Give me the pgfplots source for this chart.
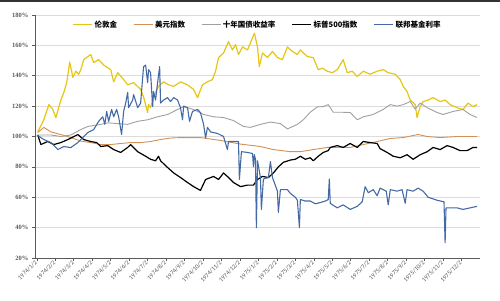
\documentclass[border=0pt]{standalone}
\usepackage{pgfplots}
\pgfplotsset{compat=1.18}
\usepackage{fontspec}
\setmainfont{Liberation Serif}
\newfontfamily\xfont{Carlito}
\newfontfamily\cjk{Noto Sans CJK SC}
\definecolor{cgold}{RGB}{230,198,20}
\definecolor{corange}{RGB}{210,145,85}
\definecolor{cgray}{RGB}{160,160,160}
\definecolor{cblue}{RGB}{68,106,166}
\definecolor{cgrid}{RGB}{220,220,220}
\definecolor{caxis}{RGB}{90,90,90}
\begin{document}
\begin{tikzpicture}
\begin{axis}[
  scale only axis, width=445pt, height=243pt,
  xmin=-0.1, xmax=24, ymin=20, ymax=180,
  axis x line=bottom, axis y line=left,
  axis line style={caxis, line width=0.8pt, -},
  tick align=outside, major tick length=3pt,
  tick style={caxis, line width=0.6pt},
  xtick={0,...,23},
  xticklabels={1974/1/2,1974/2/2,1974/3/2,1974/4/2,1974/5/2,1974/6/2,1974/7/2,1974/8/2,1974/9/2,1974/10/2,1974/11/2,1974/12/2,1975/1/2,1975/2/2,1975/3/2,1975/4/2,1975/5/2,1975/6/2,1975/7/2,1975/8/2,1975/9/2,1975/10/2,1975/11/2,1975/12/2},
  x tick label style={rotate=45, anchor=east, font=\xfont\fontsize{6.3}{7}\selectfont, text=caxis, inner sep=1pt},
  ytick={20,40,60,80,100,120,140,160,180},
  yticklabels={20\%,40\%,60\%,80\%,100\%,120\%,140\%,160\%,180\%},
  y tick label style={font=\bfseries\fontsize{6.5}{7}\selectfont, text=caxis},
  ymajorgrids, major grid style={cgrid, line width=0.6pt},
  legend columns=5,
  legend style={at={(0.5,0.99)}, anchor=north, draw=none, fill=none,
    font=\cjk\bfseries\fontsize{7.5}{8}\selectfont, inner sep=1pt,
    /tikz/every even column/.append style={column sep=14pt}},
  legend image code/.code={\draw[#1] (0pt,0pt) -- (19pt,0pt);},
  every axis plot/.append style={line join=round},
]
\coordinate (bl) at (rel axis cs:0,0);
\coordinate (tr) at (rel axis cs:1,1);
% London gold
\addplot[cgold, line width=1.2pt] coordinates {
(0.05,103) (0.38,111) (0.65,121) (0.86,118) (1.03,112.5) (1.30,124) (1.46,129) (1.62,135.5) (1.78,149) (1.95,139) (2.11,143) (2.27,141) (2.38,144) (2.54,150.6) (2.92,154) (3.08,148.7) (3.35,150.6) (3.62,147) (4.00,144) (4.16,136) (4.38,142) (4.70,137.5) (4.92,134) (5.24,135.5) (5.62,131) (5.78,126) (6.00,115.8) (6.05,121) (6.16,119) (6.32,126) (6.59,133) (6.86,136) (7.14,134) (7.41,133) (7.78,136) (8.16,134) (8.49,131) (8.70,125.6) (8.97,134) (9.24,136) (9.51,137.5) (9.68,143) (9.84,152) (10.11,155) (10.38,162.5) (10.59,157) (10.76,160.5) (10.92,154) (11.14,159) (11.41,157) (11.68,165) (11.78,168) (11.95,159) (12.05,146) (12.22,155) (12.49,152) (12.76,156) (13.03,152) (13.30,150.6) (13.57,159) (13.84,156) (14.11,154) (14.27,157) (14.65,152.6) (14.97,152) (15.24,144) (15.46,145) (15.73,143) (16.00,142) (16.27,144) (16.59,150.6) (16.81,142) (17.08,143) (17.35,139.5) (17.68,143) (18.05,141) (18.43,143) (18.76,144) (19.03,142) (19.41,141) (19.68,137.5) (19.84,133) (20.05,129.6) (20.22,124) (20.49,121) (20.59,112.5) (20.76,119.7) (20.92,123) (21.19,124) (21.46,125.6) (21.84,123) (22.11,124) (22.38,121) (22.76,119) (23.08,117.8) (23.35,122) (23.62,119.7) (23.84,121)
};
\addlegendentry{伦敦金}
% Dollar index
\addplot[corange, line width=0.9pt] coordinates {
(0.05,102.6) (0.38,106) (0.76,103) (1.30,101.3) (1.84,99.3) (2.38,97) (2.92,96) (3.46,94.7) (4.00,94.7) (4.54,95.4) (5.08,96) (5.62,96) (6.16,96.7) (6.70,98) (7.24,99) (7.78,99.3) (8.86,99.3) (9.95,97.4) (11.03,95) (12.11,93.4) (12.81,91.4) (13.73,90) (14.27,90) (14.97,91.4) (15.73,92.8) (16.43,92.8) (16.97,92.8) (17.68,94.7) (18.43,96.7) (19.14,98.7) (19.84,99.3) (20.65,101.3) (21.14,100) (21.84,99.3) (22.76,100) (23.84,100)
};
\addlegendentry{美元指数}
% 10y treasury yield
\addplot[cgray, line width=0.9pt] coordinates {
(0.05,101) (0.76,101) (1.30,100) (1.84,101) (2.38,104.6) (2.76,106.6) (3.46,108) (3.84,109) (4.38,108.5) (4.92,108) (5.46,110) (6.00,111) (6.54,113) (7.08,114.5) (7.62,117.8) (7.95,119.7) (8.49,117.8) (9.03,114.5) (9.57,113) (10.11,112.5) (10.65,110.5) (11.19,106.6) (11.57,106) (12.11,108) (12.65,109.5) (13.19,108.5) (13.57,105) (14.11,108) (14.43,111) (14.81,116) (15.19,119.5) (15.51,119.7) (15.78,121) (16.05,116) (16.43,116) (16.97,115.8) (17.35,111) (17.68,113) (18.22,114.5) (18.76,117.8) (19.14,121) (19.51,120) (19.84,121) (20.22,123) (20.49,118) (20.76,122) (21.14,119) (21.68,115.8) (22.00,114.5) (22.54,116.5) (23.08,117.8) (23.46,114.5) (23.84,112.5)
};
\addlegendentry{十年国债收益率}
% S&P 500
\addplot[black, line width=1.2pt] coordinates {
(0.05,101) (0.22,94.7) (0.59,96.7) (0.92,94.7) (1.30,96) (1.68,98) (2.22,101.3) (2.54,98) (2.92,96.7) (3.24,96) (3.46,93.4) (3.84,94) (4.16,91.4) (4.54,89.5) (4.92,92.8) (5.08,94.7) (5.46,90) (5.89,87) (6.16,85) (6.43,84) (6.59,87) (6.70,84) (7.08,79.6) (7.41,76) (7.78,73) (8.16,69.7) (8.49,67) (8.86,64.5) (9.14,71.7) (9.57,73.7) (9.84,71.7) (10.11,76) (10.38,73) (10.65,69.7) (11.03,67) (11.41,68) (11.73,68) (11.95,71.7) (12.22,73.7) (12.54,73) (12.81,76) (13.08,80) (13.35,83) (13.73,84.5) (14.00,85) (14.27,87) (14.54,85) (14.81,86) (14.97,84) (15.24,87) (15.51,89.5) (15.78,90.7) (15.89,92.8) (16.27,94) (16.59,92.8) (16.97,95.4) (17.35,92.8) (17.68,96.7) (18.05,96) (18.43,95.4) (18.59,92) (18.97,89.5) (19.30,87) (19.68,86) (20.05,88) (20.38,85) (20.76,88) (21.14,90) (21.46,92.8) (21.84,91.4) (22.22,94) (22.54,92.8) (22.92,90.7) (23.30,90.7) (23.62,92.8) (23.84,92.8)
};
\addlegendentry{标普500指数}
% Fed funds rate
\addplot[cblue, line width=1.1pt] coordinates {
(0.00,101) (0.38,98) (0.76,96) (1.14,91.4) (1.46,93.4) (1.84,92.7) (2.22,96) (2.38,98) (2.76,102.6) (3.08,104.6) (3.35,110) (3.57,113) (3.68,108) (3.78,116.5) (3.89,110) (4.05,117.8) (4.16,113) (4.32,117.8) (4.43,113) (4.59,101.3) (4.70,116.5) (4.81,122) (4.92,129) (4.97,119) (5.19,124) (5.24,127.6) (5.46,119) (5.62,122) (5.78,146) (5.89,147) (6.00,135.5) (6.05,144) (6.16,142) (6.27,119.7) (6.32,129.6) (6.43,124) (6.54,135.5) (6.65,146) (6.70,122) (6.86,124) (7.08,125.6) (7.24,123) (7.41,125.6) (7.62,124) (7.78,119) (7.89,111) (7.95,120) (8.16,119) (8.27,110) (8.43,116.5) (8.70,117.8) (8.86,115.8) (9.03,108) (9.14,99) (9.24,106) (9.41,103) (9.78,102) (10.11,100) (10.32,91.4) (10.38,96.7) (10.92,96.7) (10.97,71.7) (11.08,90) (11.41,89.5) (11.68,88.8) (11.73,80) (11.78,88) (11.84,85) (11.89,40) (11.95,84) (12.11,73) (12.16,52) (12.27,72) (12.54,73) (12.65,83.5) (12.76,73) (13.03,64) (13.08,50) (13.19,65) (13.57,65) (13.73,62.5) (14.00,60) (14.11,58) (14.22,40) (14.27,58.5) (14.54,57.5) (14.81,57.5) (15.08,55.7) (15.35,56.5) (15.62,57.5) (15.78,58.5) (15.84,72) (15.89,56) (16.27,53) (16.59,55) (16.97,52) (17.35,54) (17.62,57) (17.78,67) (17.95,63) (18.22,65) (18.43,61) (18.59,66) (18.92,64) (19.03,55) (19.14,65) (19.51,64) (19.78,65) (19.95,56) (20.05,65) (20.38,64) (20.65,66) (20.92,64) (21.19,60) (21.68,58) (22.05,57) (22.11,30) (22.16,53) (22.76,53) (23.08,52) (23.46,53) (23.84,54)
};
\addlegendentry{联邦基金利率}
\end{axis}
\pgfresetboundingbox
\path[use as bounding box] ([xshift=-35pt,yshift=-42pt]bl) rectangle ([xshift=20pt,yshift=15pt]tr);
\fill[black!80] ([xshift=-35pt,yshift=13pt]tr -| bl) rectangle ([xshift=20pt,yshift=15pt]tr);
\end{tikzpicture}
\end{document}
